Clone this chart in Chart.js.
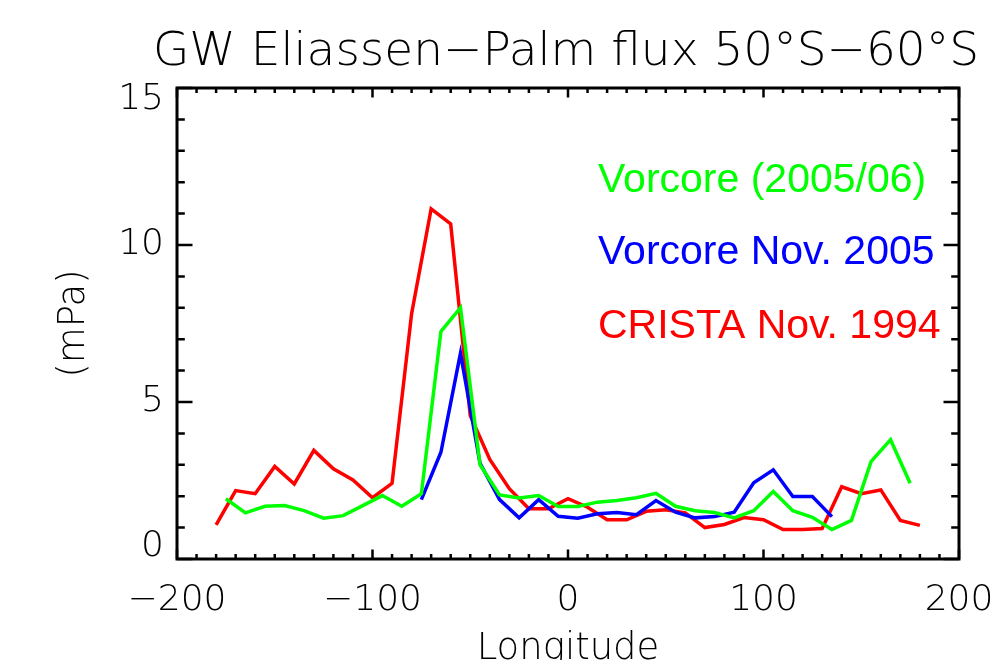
<!DOCTYPE html>
<html>
<head>
<meta charset="utf-8">
<script src="https://cdn.jsdelivr.net/npm/chart.js@4/dist/chart.umd.min.js"></script>
<style>
  html, body { margin: 0; padding: 0; background: #fff; }
  canvas { display: block; }
</style>
</head>
<body>
<canvas id="c" width="1002" height="660"></canvas>
<script>
// Longitudes (degrees) and zonal-mean GW EP flux (mPa), 50°S–60°S band
const cristaLon = [-180,-170,-160,-150,-140,-130,-120,-110,-100,-90,-80,-70,-60,-50,-40,-30,-20,-10,0,10,20,30,40,50,60,70,80,90,100,110,120,130,140,150,160,170,180];
const cristaNov1994 = [1.09,2.18,2.08,2.95,2.39,3.46,2.87,2.52,1.95,2.41,7.81,11.15,10.67,4.57,3.17,2.24,1.60,1.60,1.92,1.65,1.25,1.25,1.52,1.57,1.47,1.00,1.10,1.32,1.25,0.94,0.94,0.97,2.30,2.08,2.20,1.23,1.07];

const vorcoreLon = [-175,-165,-155,-145,-135,-125,-115,-105,-95,-85,-75,-65,-55,-45,-35,-25,-15,-5,5,15,25,35,45,55,65,75,85,95,105,115,125,135,145,155,165,175];
const vorcore200506 = [1.92,1.47,1.68,1.70,1.54,1.30,1.38,1.70,2.02,1.68,2.08,7.25,8.00,3.00,2.04,1.94,2.02,1.67,1.67,1.81,1.86,1.95,2.09,1.68,1.54,1.48,1.31,1.54,2.15,1.54,1.33,0.94,1.23,3.10,3.80,2.41];

const vorcoreNovLon = [-75,-65,-55,-45,-35,-25,-15,-5,5,15,25,35,45,55,65,75,85,95,105,115,125,135];
const vorcoreNov2005 = [1.89,3.40,6.55,3.05,1.89,1.31,1.89,1.36,1.30,1.44,1.48,1.41,1.86,1.49,1.31,1.35,1.49,2.43,2.84,1.99,1.99,1.35];

const xTickValues = [-200,-100,0,100,200];
const yTickValues = [0,5,10,15];

const seriesNames = ['Vorcore (2005/06)', 'Vorcore Nov. 2005', 'CRISTA Nov. 1994'];
const seriesColors = ['#00ff00', '#0000ff', '#ff0000'];

const pts = (xs, ys) => xs.map((x, i) => ({ x: x, y: ys[i] }));

const AXIS_FONT = '"DejaVu Sans", "Liberation Sans", sans-serif';
const LEGEND_FONT = '"Liberation Sans", Arial, sans-serif';

// Keep the end labels of the y axis inside the frame (bottom one raised, top one lowered).
const yEndLabels = {
  id: 'yEndLabels',
  beforeDraw(chart) {
    const ys = chart.scales.y;
    const items = ys.getLabelItems(chart.chartArea);
    if (!items || !items.length) return;
    const first = items[0], last = items[items.length - 1];
    const shift = 12;
    if (!first._shifted) { first.options.translation[1] -= shift; first._shifted = true; }
    if (!last._shifted) { last.options.translation[1] += shift; last._shifted = true; }
  }
};

// Box frame with inward-pointing major/minor ticks on all four sides,
// plus title, axis titles and coloured series labels.
const framePlugin = {
  id: 'frame',
  afterDatasetsDraw(chart) {
    const ctx = chart.ctx;
    const a = chart.chartArea;
    const xs = chart.scales.x, ys = chart.scales.y;
    ctx.save();
    ctx.strokeStyle = '#000';
    ctx.lineWidth = 3;
    ctx.lineCap = 'square';
    ctx.strokeRect(a.left, a.top, a.right - a.left, a.bottom - a.top);

    ctx.lineWidth = 2.5;
    ctx.lineCap = 'butt';
    // x ticks: every 10°, major every 100°
    for (let v = xs.min; v <= xs.max; v += 10) {
      const px = xs.getPixelForValue(v);
      const len = (v % 100 === 0) ? 9.5 : 5;
      ctx.beginPath();
      ctx.moveTo(px, a.bottom); ctx.lineTo(px, a.bottom - len);
      ctx.moveTo(px, a.top); ctx.lineTo(px, a.top + len);
      ctx.stroke();
    }
    // y ticks: every 1 mPa, major every 5
    for (let v = ys.min; v <= ys.max; v += 1) {
      const py = ys.getPixelForValue(v);
      const len = (v % 5 === 0) ? 15.5 : 7.8;
      ctx.beginPath();
      ctx.moveTo(a.left, py); ctx.lineTo(a.left + len, py);
      ctx.moveTo(a.right, py); ctx.lineTo(a.right - len, py);
      ctx.stroke();
    }

    ctx.fillStyle = '#000';
    ctx.textAlign = 'center';
    ctx.textBaseline = 'alphabetic';
    ctx.font = '200 47px ' + AXIS_FONT;
    ctx.fillText('GW Eliassen\u2212Palm flux 50\u00b0S\u221260\u00b0S', 566, 65);

    ctx.font = '200 37px ' + AXIS_FONT;
    ctx.fillText('Longitude', (a.left + a.right) / 2, 659);

    ctx.save();
    ctx.translate(84, (a.top + a.bottom) / 2);
    ctx.rotate(-Math.PI / 2);
    ctx.fillText('(mPa)', 0, 0);
    ctx.restore();

    ctx.textAlign = 'left';
    ctx.font = '41px ' + LEGEND_FONT;
    const baselines = [192, 264, 338];
    seriesNames.forEach((name, i) => {
      ctx.fillStyle = seriesColors[i];
      ctx.fillText(name, 598, baselines[i]);
    });
    ctx.restore();
  }
};

new Chart(document.getElementById('c'), {
  type: 'line',
  data: {
    datasets: [
      { label: seriesNames[0], data: pts(vorcoreLon, vorcore200506), borderColor: seriesColors[0] },
      { label: seriesNames[1], data: pts(vorcoreNovLon, vorcoreNov2005), borderColor: seriesColors[1] },
      { label: seriesNames[2], data: pts(cristaLon, cristaNov1994), borderColor: seriesColors[2] }
    ].map(d => Object.assign(d, { borderWidth: 3.5, pointRadius: 0, tension: 0, fill: false }))
  },
  options: {
    responsive: false,
    animation: false,
    devicePixelRatio: 1,
    layout: { padding: { top: 88, right: 43, left: 0, bottom: 0 } },
    plugins: { legend: { display: false }, tooltip: { enabled: false }, title: { display: false } },
    scales: {
      x: {
        type: 'linear',
        min: -200, max: 200,
        afterBuildTicks(scale) { scale.ticks = xTickValues.map(v => ({ value: v })); },
        afterFit(scale) { scale.height = 101; scale.paddingLeft = 0; scale.paddingRight = 0; },
        grid: { display: false, drawTicks: false },
        border: { display: false },
        ticks: {
          padding: 20,
          color: '#000',
          font: { family: AXIS_FONT, size: 36, weight: '200' },
          maxRotation: 0,
          callback: v => (v < 0 ? '\u2212' + Math.abs(v) : String(v))
        }
      },
      y: {
        type: 'linear',
        min: 0, max: 15,
        afterBuildTicks(scale) { scale.ticks = yTickValues.map(v => ({ value: v })); },
        afterFit(scale) { scale.width = 177; scale.paddingTop = 0; scale.paddingBottom = 0; },
        grid: { display: false, drawTicks: false },
        border: { display: false },
        ticks: {
          padding: 13,
          color: '#000',
          font: { family: AXIS_FONT, size: 36, weight: '200' }
        }
      }
    }
  },
  plugins: [yEndLabels, framePlugin]
});
</script>
</body>
</html>
